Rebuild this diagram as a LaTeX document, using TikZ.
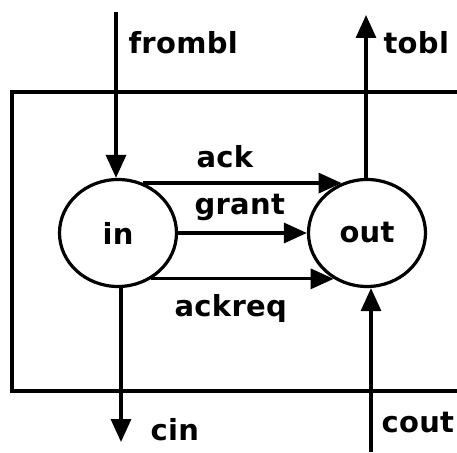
\documentclass[tikz,border=0pt]{standalone}
\usepackage{fontspec}
\setmainfont{DejaVu Sans}[LetterSpace=1]
\usetikzlibrary{arrows.meta,shapes.geometric}
\begin{document}
\begin{tikzpicture}[x=1pt,y=-1pt,
  line width=3.2pt,
  arr/.style={-{Triangle[length=23pt,width=20pt]}},
  proc/.style={draw,ellipse,inner sep=0pt,minimum width=117pt,minimum height=107pt,font=\fontsize{29}{34}\selectfont\bfseries},
  lbl/.style={anchor=base west,inner sep=0pt,font=\fontsize{29}{34}\selectfont\bfseries}]
\useasboundingbox (0,0) rectangle (457,452);
\draw (457,92) -- (12,92) -- (12,391) -- (457,391);
\node[proc] (in) at (118,233) {in};
\node[proc] (out) at (367,233) {out};
\coordinate (fb) at (116,12);
\coordinate (tb) at (366,15);
\coordinate (ci) at (121,442);
\coordinate (co) at (371,452);
\draw[arr] (fb) -- (fb |- in.north);
\draw[arr] (tb |- out.north) -- (tb);
\draw[arr] (ci |- in.south) -- (ci);
\draw[arr] (co) -- (co |- out.south);
\draw[arr] (in.63) -- (out.117);
\draw[arr] (in.east) -- (out.west);
\draw[arr] (in.-54) -- (out.-126);
\node[lbl] (lfb) at (127,53) {frombl};
\node[lbl] (ltb) at (382,53) {tobl};
\node[lbl] (lack) at (195,167) {ack};
\node[lbl] (lgr) at (193,214) {grant};
\node[lbl] (lar) at (173,316) {ackreq};
\node[lbl] (lci) at (149,440) {cin};
\node[lbl] (lco) at (380,432) {cout};
\end{tikzpicture}
\end{document}
